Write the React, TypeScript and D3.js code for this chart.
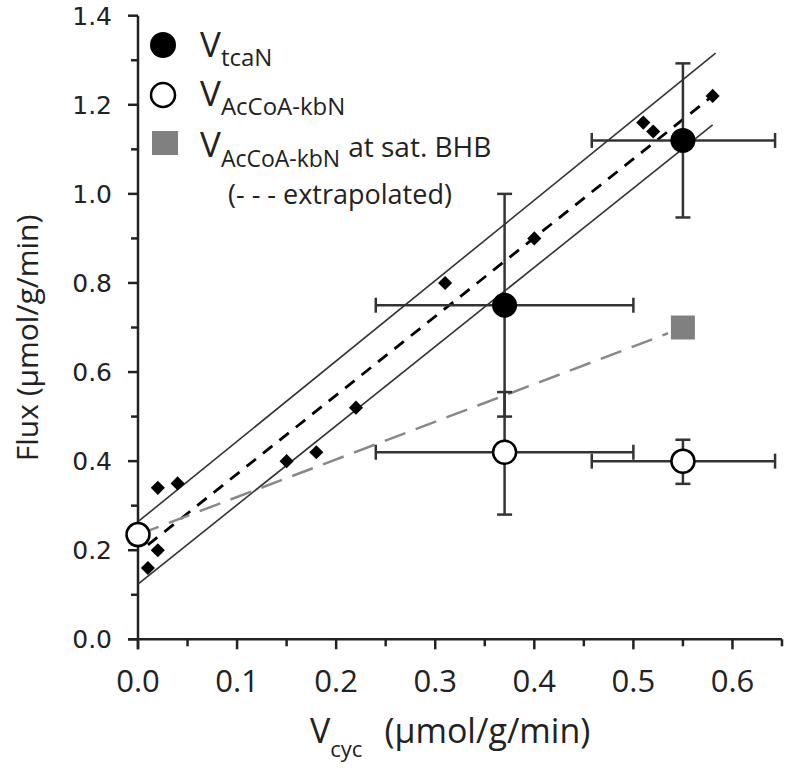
import React from "react";
import * as d3 from "d3";

// ---- data ----
const diamondX = [0.01, 0.02, 0.02, 0.04, 0.15, 0.18, 0.22, 0.31, 0.40, 0.51, 0.52, 0.58];
const diamondY = [0.16, 0.20, 0.34, 0.35, 0.40, 0.42, 0.52, 0.80, 0.90, 1.16, 1.14, 1.22];

const tcaX = [0.37, 0.55];
const tcaY = [0.75, 1.12];
const tcaXLow = [0.24, 0.458];
const tcaXHigh = [0.50, 0.643];
const tcaYLow = [0.50, 0.947];
const tcaYHigh = [1.00, 1.293];

const acX = [0.0, 0.37, 0.55];
const acY = [0.235, 0.42, 0.40];
const acXLow = [null, 0.24, 0.458];
const acXHigh = [null, 0.50, 0.643];
const acYLow = [null, 0.28, 0.349];
const acYHigh = [null, 0.555, 0.448];

const satX = [0.55];
const satY = [0.70];

const fitX = [0.01, 0.58];
const fitY = [0.212, 1.22];
const upperX = [0.0, 0.583];
const upperY = [0.264, 1.316];
const lowerX = [0.0, 0.58];
const lowerY = [0.124, 1.155];
const extrapX = [0.0, 0.535];
const extrapY = [0.235, 0.687];

const xTicks = [0, 0.1, 0.2, 0.3, 0.4, 0.5, 0.6];
const yTicks = [0, 0.2, 0.4, 0.6, 0.8, 1.0, 1.2, 1.4];

export default function App() {
  const x = d3.scaleLinear().domain([0, 0.65]).range([138, 782]);
  const y = d3.scaleLinear().domain([0, 1.4]).range([639.3, 15.7]);
  const line = d3.line<[number, number]>().x((d) => x(d[0])).y((d) => y(d[1]));
  const pts = (xs: number[], ys: number[]) => xs.map((v, i) => [v, ys[i]] as [number, number]);

  const errColor = "#333";
  const cap = 7.5;

  const xMinor = d3.range(0, 0.651, 0.05);
  const yMinor = d3.range(0, 1.401, 0.1);

  const errBars = (
    xs: number[], ys: number[],
    xl: (number | null)[], xh: (number | null)[],
    yl: (number | null)[], yh: (number | null)[], key: string
  ) =>
    xs.map((xv, i) => (
      <g key={key + i} stroke={errColor} strokeWidth={2.5} fill="none">
        {xl[i] != null && (
          <>
            <line x1={x(xl[i] as number)} x2={x(xh[i] as number)} y1={y(ys[i])} y2={y(ys[i])} />
            <line x1={x(xl[i] as number)} x2={x(xl[i] as number)} y1={y(ys[i]) - cap} y2={y(ys[i]) + cap} />
            <line x1={x(xh[i] as number)} x2={x(xh[i] as number)} y1={y(ys[i]) - cap} y2={y(ys[i]) + cap} />
          </>
        )}
        {yl[i] != null && (
          <>
            <line x1={x(xv)} x2={x(xv)} y1={y(yl[i] as number)} y2={y(yh[i] as number)} />
            <line x1={x(xv) - cap} x2={x(xv) + cap} y1={y(yl[i] as number)} y2={y(yl[i] as number)} />
            <line x1={x(xv) - cap} x2={x(xv) + cap} y1={y(yh[i] as number)} y2={y(yh[i] as number)} />
          </>
        )}
      </g>
    ));

  const lf = "'Open Sans', sans-serif";

  return (
    <svg width={787} height={768} style={{ position: "absolute", left: 0, top: 0, background: "#fff" }}>
      {/* axes */}
      <g stroke="#222" strokeWidth={2.5} fill="none">
        <line x1={x(0)} x2={x(0)} y1={y(1.4)} y2={y(0) + 10} />
        <line x1={x(0) - 10} x2={x(0.65)} y1={y(0)} y2={y(0)} />
        {yMinor.map((t, i) => (
          <line key={"yt" + i} x1={x(0) - (i % 2 === 0 ? 10 : 7)} x2={x(0)} y1={y(t)} y2={y(t)} />
        ))}
        {xMinor.map((t, i) => (
          <line key={"xt" + i} x1={x(t)} x2={x(t)} y1={y(0)} y2={y(0) + (i % 2 === 0 ? 10 : 7)} />
        ))}
      </g>
      <g fontFamily="'DejaVu Sans', sans-serif" fontSize={25} fill="#222" textAnchor="end">
        {yTicks.map((t) => (
          <text key={"yl" + t} x={x(0) - 26} y={y(t) + 9}>{t.toFixed(1)}</text>
        ))}
      </g>
      <g fontFamily={lf} fontSize={31} fill="#222" textAnchor="middle">
        {xTicks.map((t) => (
          <text key={"xl" + t} x={x(t)} y={y(0) + 53}>{t.toFixed(1)}</text>
        ))}
      </g>
      {/* axis titles */}
      <text
        transform={`translate(38,${338}) rotate(-90)`}
        textAnchor="middle" fontFamily={lf} fontSize={30} fill="#222"
      >
        Flux (µmol/g/min)
      </text>
      <text x={310} y={743} fontFamily={lf} fontSize={34} fill="#222">
        V<tspan fontSize={22} dy={14}>cyc</tspan>
        <tspan fontSize={34} dy={-14} dx={22}>(µmol/g/min)</tspan>
      </text>

      {/* fit lines */}
      <path d={line(pts(upperX, upperY)) || ""} stroke="#333" strokeWidth={1.6} fill="none" />
      <path d={line(pts(lowerX, lowerY)) || ""} stroke="#333" strokeWidth={1.6} fill="none" />
      <path d={line(pts(fitX, fitY)) || ""} stroke="#000" strokeWidth={2.8} strokeDasharray="12 9" fill="none" />
      <path d={line(pts(extrapX, extrapY)) || ""} stroke="#888" strokeWidth={2.5} strokeDasharray="22 11" fill="none" />

      {/* error bars */}
      {errBars(tcaX, tcaY, tcaXLow, tcaXHigh, tcaYLow, tcaYHigh, "t")}
      {errBars(acX, acY, acXLow, acXHigh, acYLow, acYHigh, "a")}

      {/* diamonds */}
      {diamondX.map((dx, i) => (
        <rect key={"d" + i} x={-5} y={-5} width={10} height={10} fill="#000"
          transform={`translate(${x(dx)},${y(diamondY[i])}) rotate(45)`} />
      ))}

      {/* markers */}
      {satX.map((sx, i) => (
        <rect key={"s" + i} x={x(sx) - 12} y={y(satY[i]) - 12} width={24} height={24} fill="#808080" />
      ))}
      {tcaX.map((tx, i) => (
        <circle key={"c" + i} cx={x(tx)} cy={y(tcaY[i])} r={12.5} fill="#000" />
      ))}
      {acX.map((ax, i) => (
        <circle key={"o" + i} cx={x(ax)} cy={y(acY[i])} r={11.5} fill="#fff" stroke="#000" strokeWidth={2.5} />
      ))}

      {/* legend */}
      <circle cx={163} cy={45} r={13} fill="#000" />
      <circle cx={163} cy={95} r={12} fill="#fff" stroke="#000" strokeWidth={2.5} />
      <rect x={152} y={131} width={26} height={24} fill="#808080" />
      <g fontFamily={lf} fill="#222">
        <text x={200} y={57} fontSize={35}>
          V<tspan fontSize={24} dy={9}>tcaN</tspan>
        </text>
        <text x={200} y={106} fontSize={35}>
          V<tspan fontSize={24} dy={9}>AcCoA-kbN</tspan>
        </text>
        <text x={200} y={157} fontSize={35}>
          V<tspan fontSize={23} dy={10}>AcCoA-kbN</tspan>
          <tspan fontSize={28} dy={-10} dx={8}>at sat. BHB</tspan>
        </text>
        <text x={228} y={204} fontSize={27}>(- - - extrapolated)</text>
      </g>
    </svg>
  );
}
